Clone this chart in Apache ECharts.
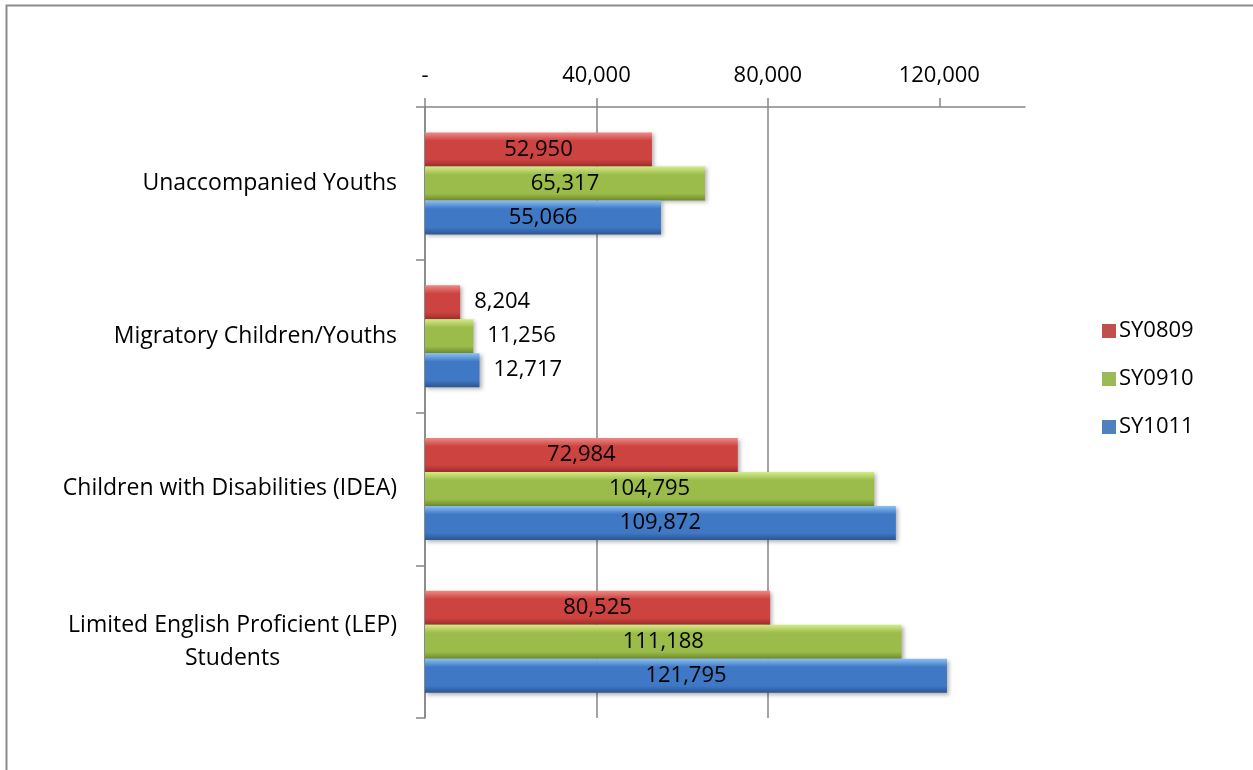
<!DOCTYPE html>
<html>
<head>
<meta charset="utf-8">
<script src="https://cdn.jsdelivr.net/npm/echarts@6/dist/echarts.min.js"></script>
<style>
html,body{margin:0;padding:0;background:#fff;}
#c{width:1253px;height:770px;}
</style>
</head>
<body>
<div id="c"></div>
<script>
var categories = ['Unaccompanied Youths', 'Migratory Children/Youths', 'Children with Disabilities (IDEA)', 'Limited English Proficient (LEP)\nStudents'];
var seriesNames = ['SY0809', 'SY0910', 'SY1011'];
var sy0809 = [52950, 8204, 72984, 80525];
var sy0910 = [65317, 11256, 104795, 111188];
var sy1011 = [55066, 12717, 109872, 121795];
var tickValues = [0, 40000, 80000, 120000];

var FONT = '"Open Sans", sans-serif';
var FS = 22;
function grad(light, body, dark) {
  return new echarts.graphic.LinearGradient(0, 0, 0, 1, [
    {offset: 0, color: light},
    {offset: 0.25, color: body},
    {offset: 0.8, color: body},
    {offset: 1, color: dark}
  ]);
}
var colors = [
  grad('#ee8a86', '#cc4340', '#9e2f2c'),
  grad('#d4ec86', '#9bbb4a', '#6f8c2c'),
  grad('#8cc0f4', '#3f78c4', '#2b5690')
];
var solid = ['#c0504d', '#9bbb59', '#4f81bd'];
function fmt(v) { return v === 0 ? '-' : v.toLocaleString('en-US'); }

function makeSeries(name, data, idx) {
  return {
    name: name,
    type: 'bar',
    barWidth: 34,
    barGap: '0%',
    data: data.map(function (v, i) {
      var small = v < 20000;
      return {
        value: v,
        label: {
          show: true,
          position: small ? 'right' : 'inside',
          distance: 14,
          formatter: function (p) { return fmt(p.value); },
          color: '#000',
          fontFamily: FONT,
          fontSize: FS
        }
      };
    }),
    itemStyle: {
      color: colors[idx],
      shadowBlur: 4,
      shadowColor: 'rgba(0,0,0,0.3)',
      shadowOffsetX: 2,
      shadowOffsetY: 2
    }
  };
}

var chart = echarts.init(document.getElementById('c'));
chart.setOption({
  animation: false,
  backgroundColor: '#fff',
  graphic: [{
    type: 'rect',
    shape: {x: 6.5, y: 5.5, width: 1400, height: 900},
    style: {fill: 'none', stroke: '#8c8c8c', lineWidth: 2},
    silent: true
  }],
  grid: {left: 425, top: 107, right: 228, bottom: 52},
  legend: {
    orient: 'vertical',
    left: 1097,
    top: 315,
    itemWidth: 14,
    itemHeight: 14,
    itemGap: 26,
    icon: 'rect',
    data: seriesNames.map(function (n, i) { return {name: n, itemStyle: {color: solid[i]}}; }),
    textStyle: {fontFamily: FONT, fontSize: FS, color: '#000', padding: [0, 0, 0, -2]}
  },
  xAxis: {
    type: 'value',
    position: 'top',
    min: 0,
    max: 140000,
    interval: 40000,
    axisLine: {show: true, lineStyle: {color: '#868686', width: 1.5}},
    axisTick: {show: true, length: 9, customValues: tickValues, lineStyle: {color: '#868686', width: 1.5}},
    axisLabel: {
      customValues: tickValues,
      margin: 20,
      formatter: function (v) { return fmt(v); },
      color: '#000', fontFamily: FONT, fontSize: FS
    },
    splitLine: {show: true, showMaxLine: false, lineStyle: {color: '#868686', width: 1.5}}
  },
  yAxis: {
    type: 'category',
    inverse: true,
    data: categories,
    axisLine: {show: true, lineStyle: {color: '#868686', width: 1.5}},
    axisTick: {show: true, length: 9, lineStyle: {color: '#868686', width: 1.5}},
    axisLabel: {
      margin: 28,
      formatter: function (v) {
        return v.split('\n').map(function (s) { return '{a|' + s + '}'; }).join('\n');
      },
      rich: {a: {align: 'center', fontFamily: FONT, fontSize: 23, color: '#000', lineHeight: 33}}
    }
  },
  series: [
    makeSeries(seriesNames[0], sy0809, 0),
    makeSeries(seriesNames[1], sy0910, 1),
    makeSeries(seriesNames[2], sy1011, 2)
  ]
});
</script>
</body>
</html>
